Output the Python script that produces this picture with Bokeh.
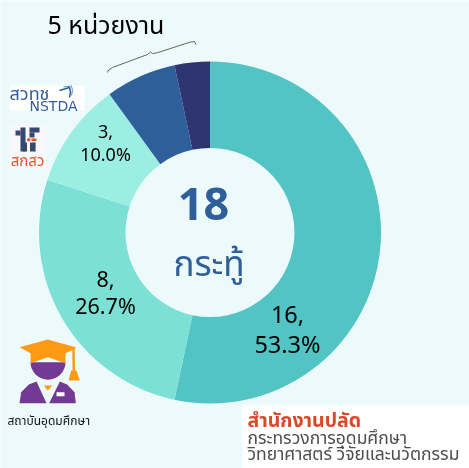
import numpy as np
from bokeh.plotting import figure
from bokeh.models import Range1d
from bokeh.core.properties import value
from bokeh.embed import file_html
from bokeh.resources import INLINE

# ---- data ----
counts = [16, 8, 3, 2, 1]
colors = ["#52C4C3", "#7CE1D4", "#9DEEE2", "#2E5F9A", "#2F3570"]
total_label = "18"
total_caption = "กระทู้"
group_label = "5 หน่วยงาน"
org_title = "สำนักงานปลัด"
org_line2 = "กระทรวงการอุดมศึกษา"
org_line3 = "วิทยาศาสตร์ วิจัยและนวัตกรรม"
edu_label = "สถาบันอุดมศึกษา"

W, H = 469, 468
BG = "#EDFAFB"
FONT = "Noto Sans Thai, Noto Sans"
p = figure(width=W, height=H, x_range=Range1d(0, W), y_range=Range1d(0, H),
           output_backend="svg", toolbar_location=None, min_border=0,
           background_fill_color=BG, border_fill_color=BG, outline_line_color=None)
p.axis.visible = False
p.grid.visible = False
p.styles = {"position": "fixed", "left": "0px", "top": "0px"}


def Y(y):
    return H - y


def txt(x, y, s, size, color="#000000", style="normal", align="center", font=FONT):
    p.text([x], [Y(y)], text=[s], text_font=value(font), text_font_size=f"{size}px",
           text_color=color, text_font_style=style, text_align=align, text_baseline="middle")


# ---- donut ----
CX, CY, RO, RI = 209.5, 232, 171, 84.5
fr = np.array(counts) / sum(counts)
cum = np.concatenate([[0], np.cumsum(fr)]) * 2 * np.pi
p.annular_wedge(x=CX, y=Y(CY), inner_radius=RI, outer_radius=RO,
                start_angle=list(np.pi / 2 - cum[:-1]), end_angle=list(np.pi / 2 - cum[1:]),
                direction="clock", fill_color=colors, line_color=None)

pct = [f"{100 * f:.1f}%" for f in fr]
txt(287, 314, f"{counts[0]},", 23.5)
txt(287, 345, pct[0], 23.5)
txt(105, 278, f"{counts[1]},", 21.5)
txt(105, 307, pct[1], 21.5)
txt(105, 131, f"{counts[2]},", 18)
txt(105, 155, pct[2], 18)

txt(203, 203, total_label, 45, "#2E5F9A", "bold")
txt(208.5, 265, total_caption, 35, "#2E5F9A")
txt(47, 25, group_label, 25, "#000000", align="left")

# brace
bx = [107, 108, 112, 147, 150, 152, 156, 190, 194, 195.5]
by = [72, 69.5, 67, 54, 51.5, 53, 52.5, 41.5, 41, 44]
p.line(bx, [Y(v) for v in by], line_color="#4A5A45", line_width=0.9)

# NSTDA logo
p.quad(left=9, right=84, bottom=Y(110), top=Y(85), fill_color="#FFFFFF", line_color=None)
txt(9, 94, "สวทช", 18, "#2E5F9A", align="left")
txt(53, 105.5, "NSTDA", 14, "#2E5F9A", font="DejaVu Sans")
p.line([59, 69, 70, 69], [Y(90), Y(87), Y(91), Y(97)], line_color="#2E5F9A", line_width=1.5)
p.line([63, 71, 72, 71], [Y(86.5), Y(85.5), Y(90), Y(95)], line_color="#5E8FC0", line_width=1)

# สกสว logo
p.quad(left=9, right=46, bottom=Y(169), top=Y(125), fill_color="#F6F8FC", line_color=None)
p.quad(left=[20, 15, 29, 29, 22.5, 34],
       right=[25, 20, 39, 34, 26.5, 35],
       bottom=[Y(151), Y(135), Y(132), Y(137), Y(151), Y(151)],
       top=[Y(127), Y(130), Y(127), Y(132), Y(142), Y(142)],
       fill_color="#38476F", line_color=None)
p.quad(left=[29.5], right=[34.7], bottom=[Y(151)], top=[Y(142)], fill_color="#38476F", line_color=None)
p.circle([28.3], [Y(139.3)], radius=1.8, fill_color="#E8552D", line_color=None)
p.quad(left=[31], right=[36], bottom=[Y(140.5)], top=[Y(138)], fill_color="#E8552D", line_color=None)
txt(27, 161, "สกสว", 15, "#E8552D")

# graduate icon
def zx(v): return v / 3
def zy(v): return Y(330 + v / 3)
PURPLE, ORANGE = "#723A94", "#FF9A14"
p.patch([zx(v) for v in [57, 62, 85, 108, 138, 138]], [zy(v) for v in [218, 185, 162, 153, 218, 218]],
        fill_color=PURPLE, line_color=None)
p.patch([zx(v) for v in [146, 178, 200, 222, 226]], [zy(v) for v in [218, 153, 162, 185, 218]],
        fill_color=PURPLE, line_color=None)
p.wedge(x=zx(142.5), y=zy(95), radius=17.5, start_angle=np.pi, end_angle=2 * np.pi,
        fill_color=PURPLE, line_color=None)
p.patch([zx(v) for v in [130, 155, 142]], [zy(v) for v in [165, 165, 181]], fill_color=ORANGE, line_color=None)
p.quad(left=zx(168), right=zx(192), bottom=zy(197), top=zy(185), fill_color="#FFFFFF", line_color=None)
p.patch([zx(v) for v in [57, 142, 225, 225, 195, 195, 142, 90, 90]],
        [zy(v) for v in [50, 27, 50, 55, 68, 98, 80, 98, 68]],
        fill_color=ORANGE, line_color=None)
p.line([zx(219), zx(220)], [zy(55), zy(122)], line_color=ORANGE, line_width=2.5)
p.patch([zx(v) for v in [212, 228, 238, 204]], [zy(v) for v in [120, 120, 150, 150]],
        fill_color=ORANGE, line_color=None)
txt(7, 420, edu_label, 12, "#111111", align="left")

# organisation box
p.quad(left=242, right=469, bottom=0, top=Y(405), fill_color="#FFFFFF", line_color=None)
txt(247, 420, org_title, 19.5, "#D9482B", "bold", "left")
txt(247, 438, org_line2, 17.5, "#4D4D4D", align="left")
txt(247, 454, org_line3, 17.5, "#4D4D4D", align="left")

open("out.html", "w").write(file_html(p, INLINE))
